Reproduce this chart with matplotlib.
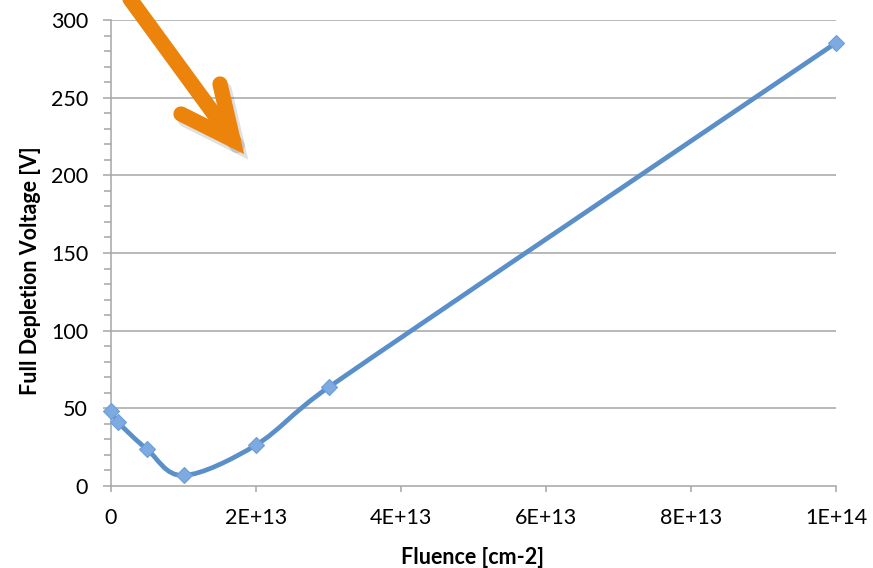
import numpy as np
import matplotlib.pyplot as plt
from matplotlib.path import Path
from matplotlib.patches import PathPatch
from matplotlib.lines import Line2D
import matplotlib.patheffects as pe

plt.rcParams['font.family'] = ['Lato', 'DejaVu Sans']

# data
fluence = [0, 1e12, 5e12, 1e13, 2e13, 3e13, 1e14]
voltage = [48.5, 41, 23.5, 6.8, 26.4, 63.5, 285.3]

xticks = [0, 2e13, 4e13, 6e13, 8e13, 1e14]
xticklabels = ["0", "2E+13", "4E+13", "6E+13", "8E+13", "1E+14"]
yticks = [0, 50, 100, 150, 200, 250, 300]

line_color = "#5B8FC9"
marker_color = "#7DAAE0"
grid_color = "#A6A6A6"
arrow_color = "#EC830B"


def smooth_path(ax, xs, ys):
    # excel-like smoothed line: catmull-rom beziers, handle length
    # limited to half the segment (done in pixel space, then back)
    tr = ax.transData
    pts = tr.transform(np.column_stack([xs, ys]))
    pts = np.vstack([pts[0], pts, pts[-1]])
    verts = [pts[1]]
    codes = [Path.MOVETO]
    for i in range(1, len(pts) - 2):
        p0, p1, p2, p3 = pts[i - 1], pts[i], pts[i + 1], pts[i + 2]
        seg = np.hypot(*(p2 - p1))
        t1 = (p2 - p0) / 6.0
        t2 = (p3 - p1) / 6.0
        for t in (t1, t2):
            n = np.hypot(*t)
            if n > seg / 2:
                t *= (seg / 2) / n
        verts += [p1 + t1, p2 - t2, p2]
        codes += [Path.CURVE4] * 3
    verts = tr.inverted().transform(np.array(verts))
    return Path(verts, codes)


fig = plt.figure(figsize=(8.73, 5.68), dpi=100)
ax = fig.add_axes([111 / 873, 1 - 486 / 568, 725 / 873, 466 / 568])

ax.set_xlim(0, 1e14)
ax.set_ylim(0, 300)

for y in yticks[1:]:
    ax.axhline(y, color=grid_color, lw=1.1, zorder=1)

patch = PathPatch(smooth_path(ax, fluence, voltage), facecolor="none",
                  edgecolor=line_color, lw=3.4, capstyle="round",
                  joinstyle="round", zorder=3, clip_on=False)
ax.add_patch(patch)
ax.plot(fluence, voltage, linestyle="none", marker="D", markersize=8.5,
        color=marker_color, markeredgecolor="#6C9ED8", markeredgewidth=0.8,
        zorder=4, clip_on=False)

ax.set_xticks(xticks)
ax.set_xticklabels(xticklabels)
ax.set_yticks(yticks)
ax.set_yticks(np.arange(0, 301, 10), minor=True)

for s in ["top", "right"]:
    ax.spines[s].set_visible(False)
for s in ["left", "bottom"]:
    ax.spines[s].set_color(grid_color)
    ax.spines[s].set_linewidth(1.1)

ax.tick_params(axis="both", which="both", color=grid_color, width=1.1,
               labelsize=15.5, labelcolor="black")
ax.tick_params(axis="y", which="major", length=5.5, pad=11)
ax.tick_params(axis="y", which="minor", length=5)
ax.tick_params(axis="x", which="major", length=4.5, pad=11)

ax.set_xlabel("Fluence [cm-2]", fontsize=15.5, fontweight="bold")
ax.set_ylabel("Full Depletion Voltage [V]", fontsize=15.5, fontweight="bold")
ax.xaxis.set_label_coords(0.498, -(557 - 486) / 466, transform=ax.transAxes)
ax.yaxis.set_label_coords(-(111 - 31) / 725, (486 - 271) / 466,
                          transform=ax.transAxes)
ax.xaxis.label.set_va("center")
ax.yaxis.label.set_va("center")

# orange arrow pointing into the plot
W, H = 873, 568
def fx(px):
    return px / W
def fy(py):
    return 1 - py / H

shadow = [pe.SimpleLineShadow(offset=(3, -4), shadow_color="black",
                              alpha=0.12, rho=1), pe.Normal()]
arrow_lw = 11
tip = (233, 140)
shaft = Line2D([fx(122), fx(tip[0])], [fy(-12), fy(tip[1])], color=arrow_color,
               lw=arrow_lw, solid_capstyle="round", transform=fig.transFigure,
               path_effects=shadow, zorder=10)
head = Line2D([fx(220), fx(tip[0]), fx(181)], [fy(84), fy(tip[1]), fy(114)],
              color=arrow_color, lw=arrow_lw, solid_capstyle="round",
              solid_joinstyle="miter", transform=fig.transFigure,
              path_effects=shadow, zorder=10)
fig.add_artist(shaft)
fig.add_artist(head)

fig.savefig("out.png", dpi=100)
